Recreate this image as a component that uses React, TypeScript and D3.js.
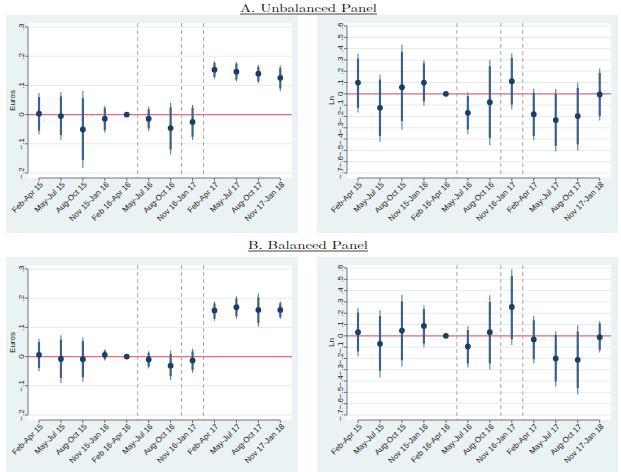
import React, { useEffect, useRef } from "react";
import * as d3 from "d3";

// quarters on the x axis
const periods = [
  "Feb-Apr 15", "May-Jul 15", "Aug-Oct 15", "Nov 15-Jan 16", "Feb 16-Apr 16", "May-Jul 16",
  "Aug-Oct 16", "Nov 16-Jan 17", "Feb-Apr 17", "May-Jul 17", "Aug-Oct 17", "Nov 17-Jan 18",
];
// vertical dashed markers (between quarters)
const breaks = [4.5, 6.5, 7.5];

const euroTicks = [-0.2, -0.1, 0, 0.1, 0.2, 0.3];
const lnTicks = [-0.7, -0.6, -0.5, -0.4, -0.3, -0.2, -0.1, 0, 0.1, 0.2, 0.3, 0.4, 0.5, 0.6];

// A. Unbalanced panel - Euros
const estAEuros = [0.003, -0.005, -0.051, -0.014, 0, -0.014, -0.046, -0.025, 0.154, 0.147, 0.14, 0.126];
const lo95AEuros = [-0.068, -0.087, -0.183, -0.062, 0, -0.056, -0.137, -0.087, 0.123, 0.113, 0.107, 0.08];
const hi95AEuros = [0.074, 0.077, 0.082, 0.03, 0, 0.028, 0.041, 0.034, 0.183, 0.18, 0.17, 0.169];
const lo90AEuros = [-0.055, -0.07, -0.156, -0.053, 0, -0.047, -0.12, -0.076, 0.129, 0.12, 0.114, 0.09];
const hi90AEuros = [0.06, 0.062, 0.056, 0.022, 0, 0.018, 0.025, 0.024, 0.177, 0.174, 0.164, 0.16];

// A. Unbalanced panel - Ln
const estALn = [0.1, -0.124, 0.059, 0.1, 0, -0.168, -0.074, 0.112, -0.18, -0.232, -0.197, -0.006];
const lo95ALn = [-0.165, -0.426, -0.318, -0.106, 0, -0.36, -0.456, -0.138, -0.41, -0.51, -0.5, -0.235];
const hi95ALn = [0.356, 0.17, 0.435, 0.3, 0, 0.015, 0.3, 0.36, 0.047, 0.044, 0.1, 0.224];
const lo90ALn = [-0.124, -0.373, -0.24, -0.065, 0, -0.315, -0.39, -0.094, -0.373, -0.46, -0.447, -0.197];
const hi90ALn = [0.31, 0.126, 0.37, 0.27, 0, -0.02, 0.244, 0.318, 0.01, 0.003, 0.053, 0.185];

// B. Balanced panel - Euros
const estBEuros = [0.006, -0.008, -0.009, 0.006, 0, -0.01, -0.031, -0.013, 0.158, 0.169, 0.16, 0.16];
const lo95BEuros = [-0.05, -0.09, -0.087, -0.013, 0, -0.041, -0.08, -0.055, 0.123, 0.13, 0.102, 0.129];
const hi95BEuros = [0.061, 0.073, 0.066, 0.024, 0, 0.018, 0.021, 0.027, 0.189, 0.207, 0.216, 0.189];
const lo90BEuros = [-0.039, -0.073, -0.071, -0.009, 0, -0.034, -0.067, -0.046, 0.13, 0.139, 0.115, 0.135];
const hi90BEuros = [0.05, 0.058, 0.053, 0.021, 0, 0.013, 0.009, 0.018, 0.182, 0.199, 0.203, 0.183];

// B. Balanced panel - Ln
const estBLn = [0.032, -0.071, 0.047, 0.088, 0, -0.094, 0.032, 0.256, -0.032, -0.2, -0.212, -0.012];
const lo95BLn = [-0.182, -0.368, -0.274, -0.103, 0, -0.28, -0.3, -0.082, -0.244, -0.447, -0.518, -0.147];
const hi95BLn = [0.247, 0.226, 0.362, 0.27, 0, 0.085, 0.359, 0.588, 0.176, 0.041, 0.094, 0.132];
const lo90BLn = [-0.138, -0.309, -0.215, -0.068, 0, -0.244, -0.244, -0.03, -0.206, -0.403, -0.462, -0.124];
const hi90BLn = [0.206, 0.176, 0.303, 0.235, 0, 0.05, 0.3, 0.53, 0.138, 0.009, 0.038, 0.109];

const W = 621;
const H = 472;
const BG = "#eaf2f3";
const NAVY = "#1a3f66";
const FONT = "'Liberation Sans', Arial, sans-serif";
const SERIF = "'Latin Modern Roman', 'DejaVu Serif', 'Liberation Serif', serif";

const fmt = (v: number) => {
  if (Math.abs(v) < 1e-9) return "0";
  const s = d3.format(".1f")(v);
  return s.replace("0.", ".");
};

type Panel = {
  est: number[]; lo95: number[]; hi95: number[]; lo90: number[]; hi90: number[];
  ticks: number[]; title: string; left: boolean; top: boolean;
};

const panels: Panel[] = [
  { est: estAEuros, lo95: lo95AEuros, hi95: hi95AEuros, lo90: lo90AEuros, hi90: hi90AEuros, ticks: euroTicks, title: "Euros", left: true, top: true },
  { est: estALn, lo95: lo95ALn, hi95: hi95ALn, lo90: lo90ALn, hi90: hi90ALn, ticks: lnTicks, title: "Ln", left: false, top: true },
  { est: estBEuros, lo95: lo95BEuros, hi95: hi95BEuros, lo90: lo90BEuros, hi90: hi90BEuros, ticks: euroTicks, title: "Euros", left: true, top: false },
  { est: estBLn, lo95: lo95BLn, hi95: hi95BLn, lo90: lo90BLn, hi90: hi90BLn, ticks: lnTicks, title: "Ln", left: false, top: false },
];

const App = () => {
  const svgRef = useRef<SVGSVGElement>(null);

  useEffect(() => {
    const svg = d3.select(svgRef.current);
    svg.selectAll("*").remove();
    svg.append("rect").attr("width", W).attr("height", H).attr("fill", "white");

    // panel titles
    const titles = [
      { text: "A. Unbalanced Panel", y: 12, x0: 240, x1: 377 },
      { text: "B. Balanced Panel", y: 249, x0: 248, x1: 368 },
    ];
    titles.forEach((t) => {
      svg.append("text")
        .attr("x", t.x0).attr("y", t.y)
        .attr("textLength", t.x1 - t.x0).attr("lengthAdjust", "spacingAndGlyphs")
        .style("font-family", SERIF).style("font-size", "11px").attr("fill", "#111")
        .text(t.text);
      svg.append("line")
        .attr("x1", t.x0).attr("x2", t.x1).attr("y1", t.y + 2).attr("y2", t.y + 2)
        .attr("stroke", "#111").attr("stroke-width", 0.8);
    });

    panels.forEach((p) => {
      const dy = p.top ? 0 : 242;
      const bg = p.left ? { x0: 6, x1: 298 } : { x0: 317, x1: 618 };
      const plot = p.left ? { x0: 28, x1: 292 } : { x0: 347, x1: 611 };
      const xr = p.left ? [39, 280.3] : [358, 599.7];
      const plotTop = 23 + dy;
      const plotBottom = 178 + dy;

      const g = svg.append("g");
      g.append("rect")
        .attr("x", bg.x0).attr("y", 15 + dy)
        .attr("width", bg.x1 - bg.x0).attr("height", 218)
        .attr("fill", BG);
      g.append("rect")
        .attr("x", plot.x0).attr("y", plotTop)
        .attr("width", plot.x1 - plot.x0).attr("height", plotBottom - plotTop)
        .attr("fill", "white");

      const x = d3.scaleLinear().domain([0, periods.length - 1]).range(xr);
      const y = d3.scaleLinear()
        .domain(d3.extent(p.ticks) as [number, number])
        .range([173 + dy, (p.left ? 27 : 26) + dy]);

      // grid
      g.selectAll(".grid").data(p.ticks).enter().append("line")
        .attr("x1", plot.x0).attr("x2", plot.x1)
        .attr("y1", (d) => y(d)).attr("y2", (d) => y(d))
        .attr("stroke", "#e3ecee").attr("stroke-width", 1);

      // dashed separators
      g.selectAll(".brk").data(breaks).enter().append("line")
        .attr("x1", (d) => x(d)).attr("x2", (d) => x(d))
        .attr("y1", plotTop).attr("y2", plotBottom)
        .attr("stroke", "#a8a8a8").attr("stroke-width", 1)
        .attr("stroke-dasharray", "4,3");

      // zero line
      g.append("line")
        .attr("x1", plot.x0).attr("x2", plot.x1)
        .attr("y1", y(0)).attr("y2", y(0))
        .attr("stroke", "#e36c84").attr("stroke-width", 1.3);

      const idx = d3.range(periods.length);
      // 95% spikes (thin)
      g.selectAll(".ci95").data(idx).enter().append("line")
        .attr("x1", (i) => x(i)).attr("x2", (i) => x(i))
        .attr("y1", (i) => y(p.lo95[i])).attr("y2", (i) => y(p.hi95[i]))
        .attr("stroke", "#5c7ea2").attr("stroke-width", 1.1);
      // 90% spikes (thick)
      g.selectAll(".ci90").data(idx).enter().append("line")
        .attr("x1", (i) => x(i)).attr("x2", (i) => x(i))
        .attr("y1", (i) => y(p.lo90[i])).attr("y2", (i) => y(p.hi90[i]))
        .attr("stroke", "#3d6189").attr("stroke-width", 2.2);
      // estimates
      g.selectAll(".pt").data(idx).enter().append("circle")
        .attr("cx", (i) => x(i)).attr("cy", (i) => y(p.est[i]))
        .attr("r", 2.9).attr("fill", NAVY);

      // y axis
      g.append("line")
        .attr("x1", plot.x0).attr("x2", plot.x0)
        .attr("y1", y(p.ticks[0])).attr("y2", y(p.ticks[p.ticks.length - 1]))
        .attr("stroke", "#4a5560").attr("stroke-width", 0.8);
      g.selectAll(".ytick").data(p.ticks).enter().append("line")
        .attr("x1", plot.x0 - 3).attr("x2", plot.x0)
        .attr("y1", (d) => y(d)).attr("y2", (d) => y(d))
        .attr("stroke", "#4a5560").attr("stroke-width", 0.8);
      g.selectAll(".ylab").data(p.ticks).enter().append("text")
        .attr("transform", (d) => `translate(${plot.x0 - 4.5},${y(d)}) rotate(-90)`)
        .attr("text-anchor", "middle")
        .style("font-family", FONT).style("font-size", "8px").attr("fill", "#222")
        .text((d) => fmt(d));
      g.append("text")
        .attr("transform", `translate(${p.left ? 14.5 : 334},${(plotTop + plotBottom) / 2}) rotate(-90)`)
        .attr("text-anchor", "middle")
        .style("font-family", FONT).style("font-size", "8px").attr("fill", "#222")
        .text(p.title);

      // x axis
      g.append("line")
        .attr("x1", x(0)).attr("x2", x(periods.length - 1))
        .attr("y1", plotBottom).attr("y2", plotBottom)
        .attr("stroke", "#4a5560").attr("stroke-width", 0.8);
      g.selectAll(".xtick").data(idx).enter().append("line")
        .attr("x1", (i) => x(i)).attr("x2", (i) => x(i))
        .attr("y1", plotBottom).attr("y2", plotBottom + 3)
        .attr("stroke", "#4a5560").attr("stroke-width", 0.8);
      g.selectAll(".xlab").data(idx).enter().append("text")
        .attr("transform", (i) => `translate(${x(i) + 2.5},${plotBottom + 5}) rotate(-45)`)
        .attr("text-anchor", "end")
        .attr("dy", "0.35em")
        .style("font-family", FONT).style("font-size", "8px").attr("fill", "#222")
        .text((i) => periods[i]);
    });
  }, []);

  return (
    <div style={{ position: "absolute", left: 0, top: 0 }}>
      <svg ref={svgRef} width={W} height={H} style={{ display: "block" }}></svg>
    </div>
  );
};

export default App;
